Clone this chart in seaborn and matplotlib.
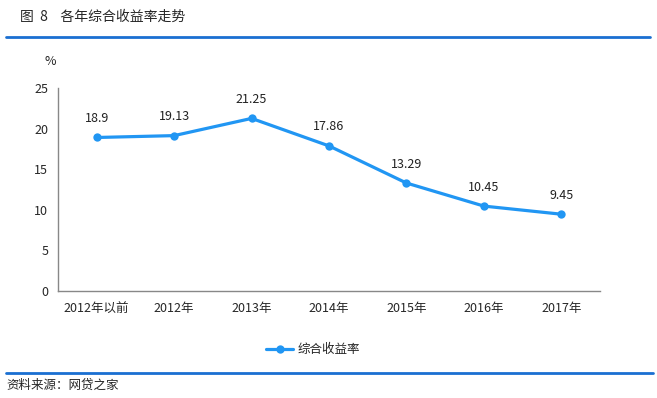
import matplotlib
matplotlib.use("Agg")
import matplotlib.pyplot as plt
import numpy as np
import pandas as pd
import seaborn as sns

# data
years = ["2012年以前", "2012年", "2013年", "2014年", "2015年", "2016年", "2017年"]
rates = [18.9, 19.13, 21.25, 17.86, 13.29, 10.45, 9.45]
series_name = "综合收益率"

sns.set_style("white")
plt.rcParams["font.family"] = ["Noto Sans CJK SC", "DejaVu Sans"]

df = pd.DataFrame({"pos": np.arange(len(years)), "rate": rates, "name": series_name})

line_color = "#2196f3"
rule_color = "#1a6fd1"

fig = plt.figure(figsize=(6.57, 3.98), dpi=100)
ax = fig.add_axes([0.0883, 0.269, 0.825, 0.51])

sns.lineplot(data=df, x="pos", y="rate", hue="name", palette=[line_color],
             marker="o", markersize=6, markeredgewidth=0, linewidth=2.3, ax=ax)

for x, y in zip(df["pos"], df["rate"]):
    ax.annotate(f"{y:g}", (x, y), xytext=(0, 9), textcoords="offset points",
                ha="center", va="bottom", fontsize=9, color="#222222")

ax.set_xlim(-0.5, len(years) - 0.5)
ax.set_ylim(0, 25)
ax.set_yticks([0, 5, 10, 15, 20, 25])
ax.set_xticks(np.arange(len(years)))
ax.set_xticklabels(years)
ax.set_xticks(np.arange(-0.5, len(years)), minor=True)
ax.tick_params(axis="x", which="major", length=0, pad=8, labelsize=9)
ax.tick_params(axis="x", which="minor", length=4, color="#888888")
ax.tick_params(axis="y", length=4, color="#888888", labelsize=9, pad=3)
ax.set_xlabel("")
ax.set_ylabel("")
for s in ["top", "right"]:
    ax.spines[s].set_visible(False)
for s in ["left", "bottom"]:
    ax.spines[s].set_color("#888888")
    ax.spines[s].set_linewidth(1)

# unit label
ax.text(-0.015, 1.13, "%", transform=ax.transAxes, fontsize=9, ha="center", va="center")

leg = ax.legend(loc="center", bbox_to_anchor=(0.47, -0.29), frameon=False,
                fontsize=9, handlelength=2.2, handletextpad=0.3)

# title, rules and source
fig.text(0.03, 0.957, "图  8    各年综合收益率走势", fontsize=10, ha="left", va="center")
fig.add_artist(plt.Line2D([0.009, 0.99], [0.907, 0.907], color=rule_color, linewidth=2))
fig.add_artist(plt.Line2D([0.009, 0.994], [0.063, 0.063], color=rule_color, linewidth=2))
fig.text(0.009, 0.033, "资料来源：网贷之家", fontsize=9, ha="left", va="center")

plt.savefig("out.png", dpi=100)
